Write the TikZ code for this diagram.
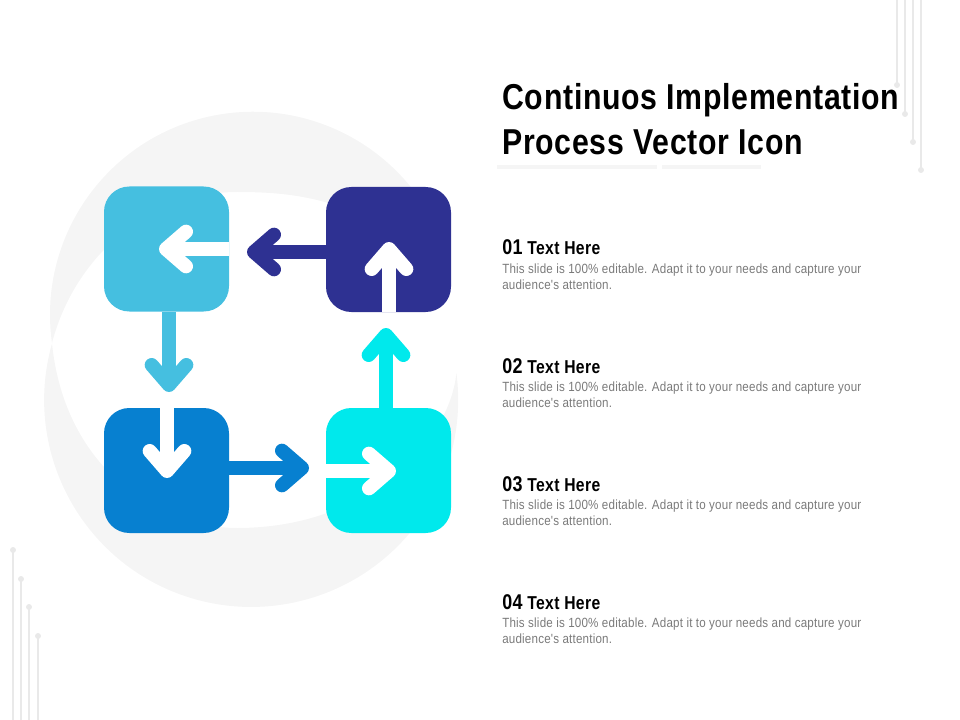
\documentclass[tikz,border=0pt]{standalone}
\usepackage{fontspec}
\usepackage{xcolor}
\usetikzlibrary{arrows.meta}
\usetikzlibrary{positioning}
\setmainfont{Liberation Sans}
\newfontfamily\headfont[FakeStretch=0.84,LetterSpace=2]{Liberation Sans}
\newfontfamily\bodyfont[FakeStretch=0.87,LetterSpace=1.5]{Liberation Sans}
\definecolor{skybox}{HTML}{45BFE0}
\definecolor{navybox}{HTML}{2E3192}
\definecolor{bluebox}{HTML}{0780D0}
\definecolor{cyanbox}{HTML}{00E9EC}
\definecolor{ghost}{HTML}{F5F5F5}
\definecolor{wire}{HTML}{E9E9E9}
\definecolor{slate}{HTML}{7A7A7A}
\tikzset{
   tile/.style={rectangle, rounded corners=19pt, minimum size=93.75pt, inner sep=0pt, fill=#1},
   flow/.style={line width=10.5pt, draw=#1, -{Straight Barb[round,length=15pt,width=26pt]}},
   heading/.style={anchor=base west, inner sep=0pt, font=\headfont\bfseries\fontsize{14}{14}\selectfont},
   blurb/.style={anchor=north west, inner sep=0pt, align=left, text=slate,
      font=\bodyfont\fontsize{10}{12}\selectfont},
   titleline/.style={anchor=base west, inner sep=0pt, font=\headfont\bfseries\fontsize{27}{32}\selectfont},
   }

\begin{document}
\begin{tikzpicture}[x=0.75pt,y=-0.75pt]
            \useasboundingbox (0,0) rectangle (960,720);
            \fill[ghost] (52,343) arc[start angle=172, end angle=330, radius=203]
               -- (335,205) .. controls (300,194) and (270,192) .. (237,192)
               .. controls (150,192) and (75,255) .. cycle;
            \fill[ghost] (52,343.6) arc[start angle=195.8, end angle=-7.5, radius=207]
               .. controls (450,440) and (370,528) .. (237,528)
               .. controls (160,528) and (65,470) .. cycle;
            \foreach \x/\y in {897/85,905/114,913/142,921/170}{
               \draw[wire, line width=0.8pt] (\x,0) -- (\x,\y);
               \fill[wire] (\x,\y) circle (3);
            }
            \foreach \x/\y in {13/550,21/579,29/607,38/636}{
               \draw[wire, line width=0.8pt] (\x,720) -- (\x,\y);
               \fill[wire] (\x,\y) circle (3);
            }
            \node[tile=skybox] (sky) at (166.5,249) {};
            \node[tile=navybox] (navy) at (388.5,249.5) {};
            \node[tile=bluebox] (blue) at (166.5,470.5) {};
            \node[tile=cyanbox] (cyan) at (388.5,470.5) {};
            \coordinate (navyout) at (247,252);
            \coordinate (skyin) at (159,249);
            \coordinate (skyout) at (169,392);
            \coordinate (bluein) at (167,478);
            \coordinate (blueout) at (309,468);
            \coordinate (cyanin) at (396,471);
            \coordinate (cyanout) at (386,328);
            \coordinate (navyin) at (389,242);
            \draw[flow=navybox] (navy.west |- navyout) -- (navyout);
            \draw[flow=white] (sky.east |- skyin) -- (skyin);
            \draw[flow=skybox] (sky.south -| skyout) -- (skyout);
            \draw[flow=white] (blue.north -| bluein) -- (bluein);
            \draw[flow=bluebox] (blue.east |- blueout) -- (blueout);
            \draw[flow=white] (cyan.west |- cyanin) -- (cyanin);
            \draw[flow=cyanbox] (cyan.north -| cyanout) -- (cyanout);
            \draw[flow=white] (navy.south -| navyin) -- (navyin);
            \node[titleline] (title1) at (502,110) {Continuos Implementation};
            \node[titleline] (title2) at (502,155) {Process Vector Icon};
            \fill[ghost] (497,165) rectangle (657,169);
            \fill[ghost] (662,165) rectangle (761,169);
            \foreach \num/\y in {01/255,02/373,03/491,04/609}{
               \node[heading] (head\num) at (502,\y) {{\fontsize{16}{16}\selectfont\num} Text Here};
               \node[blurb, below=6.5pt of head\num.base west, anchor=north west] (blurb\num)
                  {This slide is 100\% editable. Adapt it to your needs and capture your\\audience's attention.};
            }
        \end{tikzpicture}
\end{document}
